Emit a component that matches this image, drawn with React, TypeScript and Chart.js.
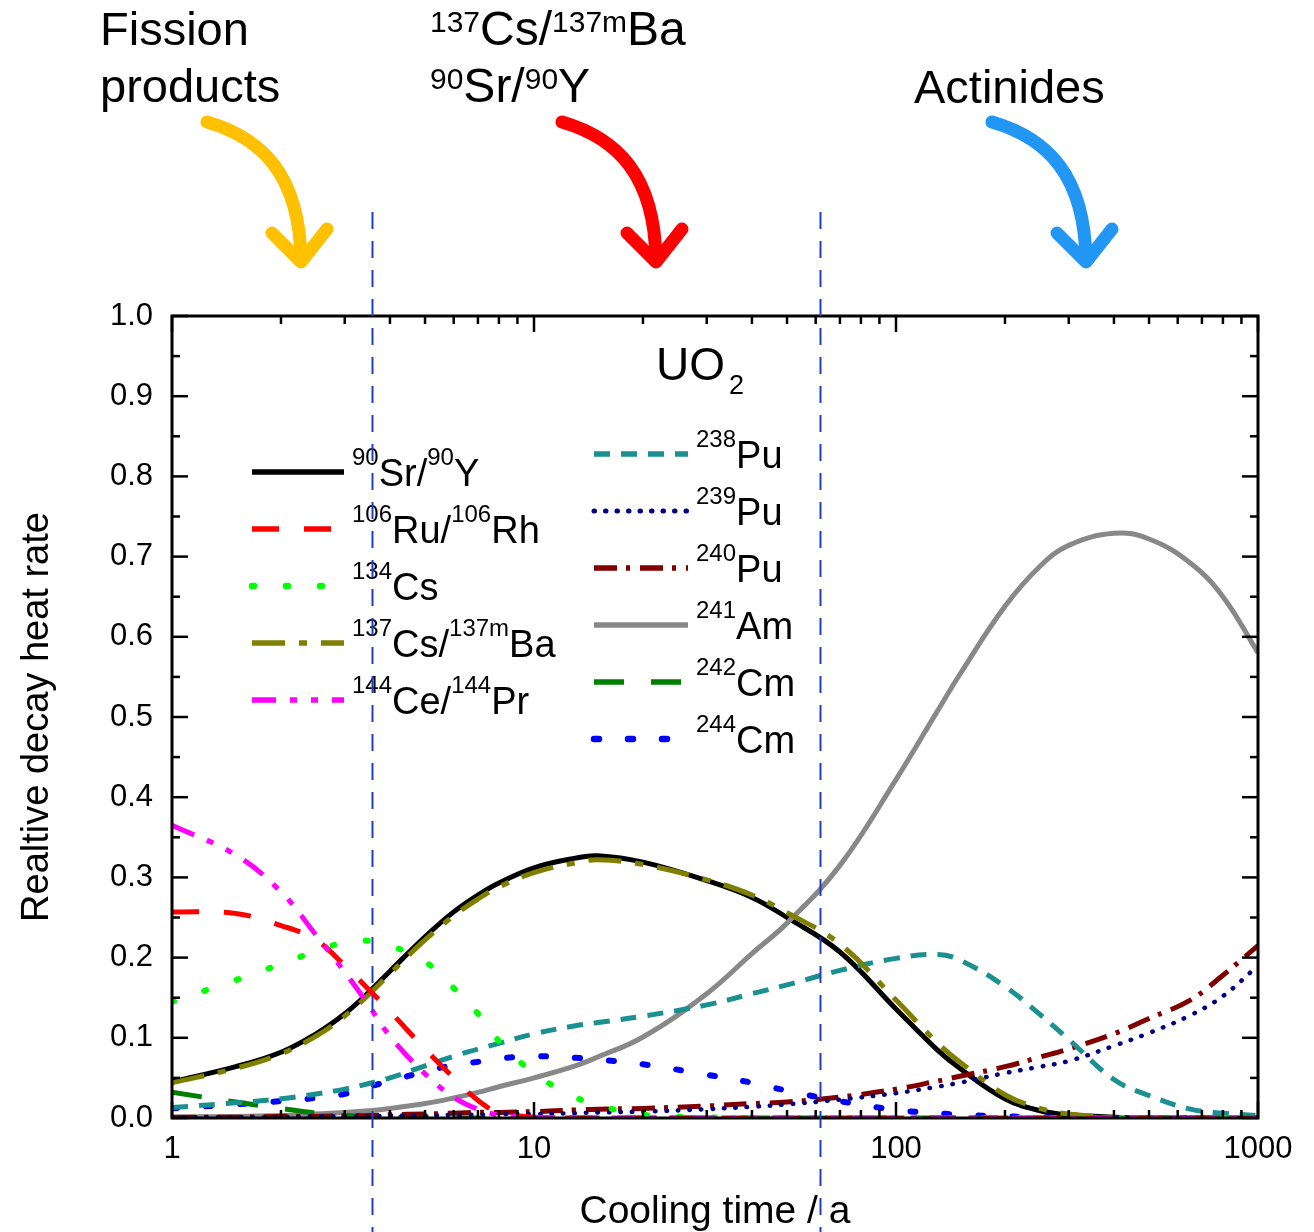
import React, { useEffect, useRef } from "react";
import { Chart, registerables } from "chart.js";

Chart.register(...registerables);

// ---------- data ----------
const coolingTimes = [1, 1.5, 2, 2.5, 3, 3.5, 4, 5, 6, 7, 8, 10, 13, 15, 20, 30, 40, 50, 70, 100, 130, 150, 200, 250, 300, 400, 500, 650, 800, 1000];

const sr90y90 = [0.045, 0.064, 0.082, 0.105, 0.13, 0.157, 0.183, 0.226, 0.257, 0.278, 0.293, 0.312, 0.324, 0.327, 0.319, 0.296, 0.275, 0.25, 0.207, 0.136, 0.085, 0.062, 0.024, 0.009, 0.004, 0.001, 0, 0, 0, 0];
const ru106rh106 = [0.257, 0.255, 0.24, 0.222, 0.19, 0.16, 0.133, 0.086, 0.05, 0.022, 0.007, 0.001, 0, 0, 0, 0, 0, 0, 0, 0, 0, 0, 0, 0, 0, 0, 0, 0, 0, 0];
const cs134 = [0.145, 0.172, 0.192, 0.208, 0.219, 0.221, 0.215, 0.195, 0.162, 0.13, 0.096, 0.056, 0.026, 0.016, 0.004, 0.001, 0, 0, 0, 0, 0, 0, 0, 0, 0, 0, 0, 0, 0, 0];
const cs137ba137m = [0.044, 0.062, 0.08, 0.102, 0.127, 0.154, 0.18, 0.222, 0.252, 0.273, 0.288, 0.306, 0.318, 0.322, 0.316, 0.297, 0.278, 0.256, 0.217, 0.147, 0.094, 0.07, 0.029, 0.012, 0.005, 0.001, 0, 0, 0, 0];
const ce144pr144 = [0.365, 0.328, 0.282, 0.228, 0.182, 0.14, 0.102, 0.055, 0.026, 0.011, 0.004, 0.001, 0, 0, 0, 0, 0, 0, 0, 0, 0, 0, 0, 0, 0, 0, 0, 0, 0, 0];
const pu238 = [0.013, 0.019, 0.024, 0.03, 0.036, 0.043, 0.05, 0.065, 0.077, 0.086, 0.093, 0.105, 0.115, 0.119, 0.127, 0.141, 0.155, 0.166, 0.184, 0.199, 0.204, 0.197, 0.164, 0.129, 0.098, 0.048, 0.028, 0.011, 0.006, 0.003];
const pu239 = [0.001, 0.001, 0.001, 0.002, 0.002, 0.002, 0.003, 0.003, 0.004, 0.004, 0.005, 0.005, 0.006, 0.007, 0.008, 0.011, 0.014, 0.017, 0.023, 0.031, 0.039, 0.044, 0.056, 0.064, 0.071, 0.09, 0.106, 0.128, 0.152, 0.19];
const pu240 = [0.001, 0.001, 0.002, 0.002, 0.003, 0.003, 0.004, 0.005, 0.006, 0.007, 0.007, 0.008, 0.01, 0.011, 0.012, 0.015, 0.018, 0.02, 0.026, 0.036, 0.046, 0.052, 0.064, 0.076, 0.086, 0.105, 0.124, 0.147, 0.178, 0.215];
const am241 = [0.001, 0.002, 0.003, 0.005, 0.007, 0.009, 0.012, 0.018, 0.025, 0.032, 0.039, 0.05, 0.065, 0.076, 0.101, 0.155, 0.205, 0.243, 0.315, 0.422, 0.507, 0.553, 0.638, 0.688, 0.714, 0.729, 0.722, 0.692, 0.65, 0.58];
const cm242 = [0.032, 0.02, 0.012, 0.006, 0.003, 0.002, 0.001, 0.001, 0, 0, 0, 0, 0, 0, 0, 0, 0, 0, 0, 0, 0, 0, 0, 0, 0, 0, 0, 0, 0, 0];
const cm244 = [0.012, 0.017, 0.021, 0.025, 0.03, 0.039, 0.046, 0.058, 0.066, 0.07, 0.074, 0.077, 0.075, 0.073, 0.067, 0.054, 0.044, 0.034, 0.021, 0.01, 0.006, 0.004, 0.002, 0.001, 0, 0, 0, 0, 0, 0];

const xMajorTicks = [1, 10, 100, 1000];
const yMin = 0;
const yMax = 1;
const yStep = 0.1;
const regionBoundaries = [3.57, 61.7];

const xTitle = "Cooling time / a";
const yTitle = "Realtive decay heat rate";

// ---------- text helpers ----------
type Part = { t: string; sup?: boolean; sub?: boolean };
const S = (t: string): Part => ({ t, sup: true });
const N = (t: string): Part => ({ t });

const FONT = '"Liberation Sans", Arial, Helvetica, sans-serif';

type SeriesDef = {
  parts: Part[];
  values: number[];
  color: string;
  width: number;
  dash: number[];
  cap: CanvasLineCap;
  column: number;
  order: number;
};

const series: SeriesDef[] = [
  { parts: [S("90"), N("Sr/"), S("90"), N("Y")], values: sr90y90, color: "#000000", width: 5, dash: [], cap: "butt", column: 0, order: 20 },
  { parts: [S("106"), N("Ru/"), S("106"), N("Rh")], values: ru106rh106, color: "#ff0000", width: 5, dash: [27, 25], cap: "butt", column: 0, order: 2 },
  { parts: [S("134"), N("Cs")], values: cs134, color: "#00ff00", width: 6, dash: [2, 32], cap: "round", column: 0, order: 3 },
  { parts: [S("137"), N("Cs/"), S("137m"), N("Ba")], values: cs137ba137m, color: "#808000", width: 5, dash: [33, 14, 8, 14], cap: "butt", column: 0, order: 4 },
  { parts: [S("144"), N("Ce/"), S("144"), N("Pr")], values: ce144pr144, color: "#ff00ff", width: 5, dash: [24, 14, 7, 14, 7, 14], cap: "butt", column: 0, order: 1 },
  { parts: [S("238"), N("Pu")], values: pu238, color: "#1a9090", width: 5, dash: [16, 11], cap: "butt", column: 1, order: 6 },
  { parts: [S("239"), N("Pu")], values: pu239, color: "#000080", width: 4.5, dash: [0.5, 11], cap: "round", column: 1, order: 7 },
  { parts: [S("240"), N("Pu")], values: pu240, color: "#800000", width: 5, dash: [23, 9, 4, 10], cap: "butt", column: 1, order: 8 },
  { parts: [S("241"), N("Am")], values: am241, color: "#888888", width: 5, dash: [], cap: "butt", column: 1, order: 19 },
  { parts: [S("242"), N("Cm")], values: cm242, color: "#008000", width: 5, dash: [30, 27], cap: "butt", column: 1, order: 9 },
  { parts: [S("244"), N("Cm")], values: cm244, color: "#0000ff", width: 6, dash: [5, 29], cap: "round", column: 1, order: 10 },
];

function drawRich(ctx: CanvasRenderingContext2D, parts: Part[], x: number, baseline: number, size: number, smallSize: number, rise: number, drop = 0) {
  let cx = x;
  ctx.textAlign = "left";
  ctx.textBaseline = "alphabetic";
  for (const p of parts) {
    const small = p.sup || p.sub;
    ctx.font = `${small ? smallSize : size}px ${FONT}`;
    const y = p.sup ? baseline - rise : p.sub ? baseline + drop : baseline;
    ctx.fillText(p.t, cx, y);
    cx += ctx.measureText(p.t).width;
  }
  return cx;
}

function drawArrow(ctx: CanvasRenderingContext2D, color: string, x0: number, y0: number) {
  ctx.save();
  ctx.strokeStyle = color;
  ctx.lineWidth = 13;
  ctx.lineCap = "round";
  ctx.lineJoin = "round";
  ctx.setLineDash([]);
  ctx.beginPath();
  ctx.moveTo(x0, y0);
  ctx.bezierCurveTo(x0 + 55, y0 + 16, x0 + 93, y0 + 53, x0 + 94, y0 + 139);
  ctx.stroke();
  ctx.beginPath();
  ctx.moveTo(x0 + 65, y0 + 111);
  ctx.lineTo(x0 + 94, y0 + 140);
  ctx.lineTo(x0 + 120, y0 + 107);
  ctx.stroke();
  ctx.restore();
}

const decorPlugin = {
  id: "decor",
  beforeDraw(chart: any) {
    const { ctx, width, height } = chart;
    ctx.save();
    ctx.fillStyle = "#ffffff";
    ctx.fillRect(0, 0, width, height);
    ctx.restore();
  },
  afterDraw(chart: any) {
    const ctx: CanvasRenderingContext2D = chart.ctx;
    const { left, right, top, bottom } = chart.chartArea;
    const xs = chart.scales.x;
    const ys = chart.scales.y;
    ctx.save();

    // frame
    ctx.setLineDash([]);
    ctx.strokeStyle = "#000";
    ctx.lineWidth = 3;
    ctx.strokeRect(left, top, right - left, bottom - top);

    // inward ticks
    ctx.lineWidth = 2.5;
    ctx.lineCap = "butt";
    const seg = (x1: number, y1: number, x2: number, y2: number) => {
      ctx.beginPath();
      ctx.moveTo(x1, y1);
      ctx.lineTo(x2, y2);
      ctx.stroke();
    };
    const nY = Math.round((yMax - yMin) / (yStep / 2));
    for (let k = 0; k <= nY; k++) {
      const v = yMin + (k * yStep) / 2;
      const L = k % 2 === 0 ? 16 : 8;
      const py = ys.getPixelForValue(v);
      seg(left, py, left + L, py);
      seg(right, py, right - L, py);
    }
    for (let d = 0; d < xMajorTicks.length; d++) {
      const base = xMajorTicks[d];
      const maxM = d === xMajorTicks.length - 1 ? 1 : 9;
      for (let m = 1; m <= maxM; m++) {
        const px = xs.getPixelForValue(base * m);
        const L = m === 1 ? 16 : 8;
        seg(px, top, px, top + L);
        seg(px, bottom, px, bottom - L);
      }
    }

    // UO2 label
    ctx.fillStyle = "#000";
    ctx.font = `46px ${FONT}`;
    ctx.textAlign = "left";
    ctx.textBaseline = "alphabetic";
    ctx.fillText("UO", 656, 380);
    const uoW = ctx.measureText("UO").width;
    ctx.font = `27px ${FONT}`;
    ctx.fillText("2", 656 + uoW + 4, 394);

    // legend
    const colX = [
      { x0: 252, x1: 344, tx: 352, base: 472 },
      { x0: 594, x1: 688, tx: 696, base: 454 },
    ];
    const rowStep = 57;
    const counters = [0, 0];
    series.forEach((s) => {
      const c = colX[s.column];
      const y = c.base + counters[s.column] * rowStep;
      counters[s.column]++;
      ctx.save();
      ctx.strokeStyle = s.color;
      ctx.lineWidth = s.width + 0.5;
      ctx.lineCap = s.cap;
      ctx.setLineDash(s.dash);
      ctx.beginPath();
      ctx.moveTo(c.x0, y);
      ctx.lineTo(c.x1, y);
      ctx.stroke();
      ctx.restore();
      ctx.fillStyle = "#000";
      drawRich(ctx, s.parts, c.tx, y + 14, 38, 24, 21);
    });

    // top annotations
    ctx.fillStyle = "#000";
    ctx.font = `47px ${FONT}`;
    ctx.fillText("Fission", 100, 45);
    ctx.fillText("products", 100, 102);
    drawRich(ctx, [S("137"), N("Cs/"), S("137m"), N("Ba")], 430, 45, 48, 30, 13);
    drawRich(ctx, [S("90"), N("Sr/"), S("90"), N("Y")], 430, 102, 48, 30, 13);
    ctx.font = `47px ${FONT}`;
    ctx.fillText("Actinides", 914, 103);

    drawArrow(ctx, "#ffc000", 207, 122);
    drawArrow(ctx, "#ff0000", 562, 122);
    drawArrow(ctx, "#2196f3", 992, 122);

    // region boundaries
    ctx.strokeStyle = "#1f3fbf";
    ctx.lineWidth = 2;
    ctx.setLineDash([17, 12]);
    regionBoundaries.forEach((v) => {
      const px = Math.round(xs.getPixelForValue(v)) + 0.5;
      seg(px, 212, px, chart.height);
    });

    ctx.restore();
  },
};

export default function App() {
  const ref = useRef<HTMLCanvasElement>(null);
  useEffect(() => {
    const canvas = ref.current;
    if (!canvas) return;
    const datasets = series.map((s) => ({
      label: s.parts.map((p) => p.t).join(""),
      data: coolingTimes.map((t, i) => ({ x: t, y: s.values[i] })),
      borderColor: s.color,
      backgroundColor: s.color,
      borderWidth: s.width,
      borderDash: s.dash,
      borderCapStyle: s.cap,
      pointRadius: 0,
      fill: false,
      tension: 0.4,
      order: s.order,
    }));
    const chart = new Chart(canvas, {
      type: "line",
      data: { datasets } as any,
      options: {
        animation: false,
        responsive: false,
        devicePixelRatio: 1,
        layout: { padding: { top: 316, right: 56, left: 0, bottom: 0 } },
        plugins: { legend: { display: false }, tooltip: { enabled: false } },
        scales: {
          x: {
            type: "logarithmic",
            min: 1,
            max: 1000,
            afterBuildTicks: (scale: any) => {
              scale.ticks = xMajorTicks.map((v) => ({ value: v }));
            },
            afterFit: (scale: any) => {
              scale.height = 114;
            },
            grid: { display: false, drawTicks: false },
            border: { display: false },
            ticks: {
              autoSkip: false,
              maxRotation: 0,
              padding: 13,
              color: "#000",
              font: { family: FONT, size: 31 },
              callback: (v: any) => String(v),
            },
            title: { display: true, text: xTitle, color: "#000", font: { family: FONT, size: 39, lineHeight: 1 }, padding: 0 },
          },
          y: {
            type: "linear",
            min: yMin,
            max: yMax,
            afterFit: (scale: any) => {
              scale.width = 172;
            },
            grid: { display: false, drawTicks: false },
            border: { display: false },
            ticks: {
              stepSize: yStep,
              padding: 19,
              color: "#000",
              font: { family: FONT, size: 31 },
              callback: (v: any) => Number(v).toFixed(1),
            },
            title: { display: true, text: yTitle, color: "#000", font: { family: FONT, size: 38 }, padding: { top: 15, bottom: 0 } },
          },
        },
      } as any,
      plugins: [decorPlugin],
    });
    return () => chart.destroy();
  }, []);
  return (
    <div style={{ position: "absolute", left: 0, top: 0, width: 1314, height: 1232, background: "#fff" }}>
      <canvas ref={ref} width={1314} height={1232} style={{ display: "block" }} />
    </div>
  );
}
